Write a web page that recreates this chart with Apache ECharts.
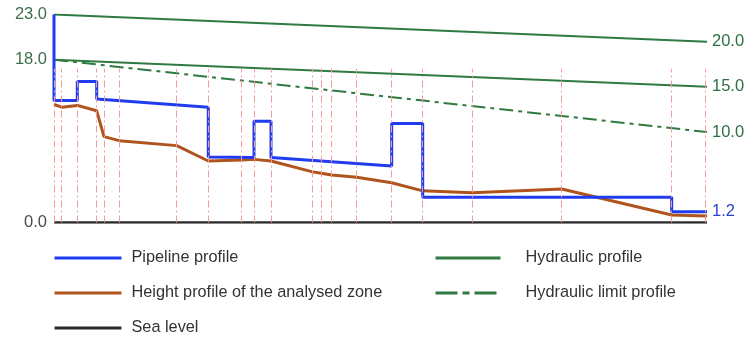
<!DOCTYPE html>
<html>
<head>
<meta charset="utf-8">
<script src="https://cdn.jsdelivr.net/npm/echarts@6/dist/echarts.min.js"></script>
<style>
  html, body { margin: 0; padding: 0; background: #fff; }
  #chart { width: 749px; height: 340px; }
</style>
</head>
<body>
<div id="chart"></div>
<script>
// Chainage along the route (m) and elevations (m)
const sectionBreaks = [0, 77, 233, 427, 500, 653, 1227, 1543, 1877, 2000, 2170, 2587, 2670, 2777, 3027, 3377, 3687, 4183, 5077, 6177, 6510];
const routeEnd = 6530;

const pipelineProfile = [
  [0, 23], [0, 13.5], [233, 13.5], [233, 15.6], [427, 15.6], [427, 13.65],
  [1543, 12.75], [1543, 7.25], [2000, 7.2], [2000, 11.2], [2170, 11.2], [2170, 7.2],
  [3377, 6.25], [3377, 10.95], [3687, 10.95], [3687, 2.8], [6177, 2.8], [6177, 1.2], [6530, 1.2]
];

const terrainProfile = [
  [0, 13.05], [77, 12.75], [233, 12.95], [427, 12.35], [500, 9.5], [653, 9.05],
  [1227, 8.5], [1543, 6.8], [1877, 6.9], [2000, 6.98], [2170, 6.8], [2587, 5.6],
  [2670, 5.45], [2777, 5.25], [3027, 5.0], [3377, 4.4], [3687, 3.5], [4183, 3.3],
  [5077, 3.7], [6177, 0.83], [6530, 0.72]
];

const hydraulicUpper = [[0, 23], [6530, 20]];
const hydraulicLower = [[0, 18], [6530, 15]];
const hydraulicLimit = [[0, 18], [6530, 10]];
const seaLevel = [[0, 0], [6530, 0]];

const leftTicks = [0, 18, 23];
const breakTop = 17;

const GREEN = '#2e7a40';
const BLUE = '#1f3cf0';
const BROWN = '#b0541e';
const FONT = 'Liberation Sans, Arial, sans-serif';

const chart = echarts.init(document.getElementById('chart'));

const endLabel = (color) => ({
  show: true,
  distance: 5,
  color: color,
  fontSize: 16.5,
  fontFamily: FONT,
  formatter: (p) => p.value[1].toFixed(1)
});

// legend shows line samples only, no marker dot
const legendBase = {
  orient: 'vertical', padding: 0,
  itemHeight: 20, itemGap: 19,
  itemStyle: { opacity: 0 },
  lineStyle: { width: 3 },
  textStyle: { fontSize: 16.3, fontFamily: FONT, color: '#333' }
};

chart.setOption({
  animation: false,
  grid: { left: 54, right: 42, top: 14.5, bottom: 117.5, containLabel: false },
  xAxis: {
    type: 'value', min: 0, max: routeEnd,
    show: false
  },
  yAxis: {
    type: 'value', min: 0, max: 23, interval: 1,
    axisLine: { show: false }, axisTick: { show: false }, splitLine: { show: false },
    axisLabel: {
      margin: 7,
      fontSize: 16.5,
      fontFamily: FONT,
      showMinLabel: true, showMaxLabel: true,
      formatter: (v) => leftTicks.includes(v) ? v.toFixed(1) : '',
      color: (v) => (Number(v) === 0 ? '#4a4a4a' : '#3d6e4c')
    }
  },
  legend: [
    Object.assign({}, legendBase, {
      left: 53, top: 250, itemWidth: 67,
      textStyle: Object.assign({}, legendBase.textStyle, { padding: [0, 0, 0, 5] }),
      data: ['Pipeline profile', 'Height profile of the analysed zone', 'Sea level']
    }),
    Object.assign({}, legendBase, {
      left: 434, top: 250, itemWidth: 65,
      textStyle: Object.assign({}, legendBase.textStyle, { padding: [0, 0, 0, 20] }),
      data: [
        'Hydraulic profile',
        { name: 'Hydraulic limit profile', lineStyle: { width: 3, type: [22, 5, 7, 5] } }
      ]
    })
  ],
  series: [
    {
      name: 'Sea level', type: 'line', data: seaLevel, symbol: 'none',
      lineStyle: { color: '#2b2b2b', width: 2.5 }, itemStyle: { color: '#2b2b2b' },
      z: 1,
      markLine: {
        silent: true, symbol: 'none', label: { show: false },
        lineStyle: { color: '#f59a9a', width: 1, type: [7, 3, 2, 3] },
        data: sectionBreaks.map((x) => [{ coord: [x, 0] }, { coord: [x, breakTop] }])
      }
    },
    {
      name: 'Hydraulic profile', type: 'line', data: hydraulicUpper, symbol: 'none',
      lineStyle: { color: GREEN, width: 2 }, itemStyle: { color: GREEN },
      endLabel: endLabel('#2f6e45'), z: 2
    },
    {
      name: 'Hydraulic profile', type: 'line', data: hydraulicLower, symbol: 'none',
      lineStyle: { color: GREEN, width: 2 }, itemStyle: { color: GREEN },
      endLabel: endLabel('#2f6e45'), z: 2
    },
    {
      name: 'Hydraulic limit profile', type: 'line', data: hydraulicLimit, symbol: 'none',
      lineStyle: { color: GREEN, width: 2, type: [14, 5, 4, 5] }, itemStyle: { color: GREEN },
      endLabel: endLabel('#2f6e45'), z: 2
    },
    {
      name: 'Height profile of the analysed zone', type: 'line', data: terrainProfile, symbol: 'none',
      lineStyle: { color: BROWN, width: 3 }, itemStyle: { color: BROWN }, z: 3
    },
    {
      name: 'Pipeline profile', type: 'line', data: pipelineProfile, symbol: 'none',
      lineStyle: { color: BLUE, width: 3 }, itemStyle: { color: BLUE },
      endLabel: endLabel('#2a3fd0'), z: 4
    }
  ]
});
</script>
</body>
</html>
